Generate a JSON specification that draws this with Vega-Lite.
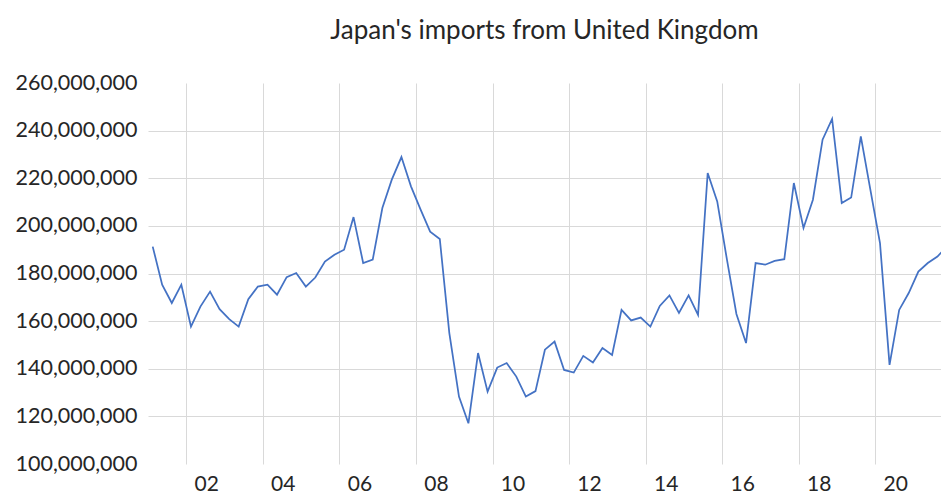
{
  "$schema": "https://vega.github.io/schema/vega-lite/v6.json",
  "autosize": {"type": "none"},
  "width": 793,
  "height": 381,
  "padding": {"left": 148, "top": 83, "right": 0, "bottom": 32},
  "background": "white",
  "title": {"text": "Japan's imports from United Kingdom", "font": "Lato", "fontSize": 26, "fontWeight": "normal", "color": "#262626", "anchor": "middle", "offset": 28},
  "config": {"view": {"stroke": null}},
  "data": {"values": [
    {"quarter": "2001-Q1", "date": "2001-02-15", "value": 191300000},
    {"quarter": "2001-Q2", "date": "2001-05-16", "value": 175300000},
    {"quarter": "2001-Q3", "date": "2001-08-16", "value": 167600000},
    {"quarter": "2001-Q4", "date": "2001-11-15", "value": 175300000},
    {"quarter": "2002-Q1", "date": "2002-02-15", "value": 157700000},
    {"quarter": "2002-Q2", "date": "2002-05-16", "value": 166100000},
    {"quarter": "2002-Q3", "date": "2002-08-16", "value": 172400000},
    {"quarter": "2002-Q4", "date": "2002-11-15", "value": 165000000},
    {"quarter": "2003-Q1", "date": "2003-02-15", "value": 160800000},
    {"quarter": "2003-Q2", "date": "2003-05-16", "value": 157700000},
    {"quarter": "2003-Q3", "date": "2003-08-16", "value": 169200000},
    {"quarter": "2003-Q4", "date": "2003-11-15", "value": 174500000},
    {"quarter": "2004-Q1", "date": "2004-02-15", "value": 175300000},
    {"quarter": "2004-Q2", "date": "2004-05-16", "value": 171100000},
    {"quarter": "2004-Q3", "date": "2004-08-16", "value": 178500000},
    {"quarter": "2004-Q4", "date": "2004-11-15", "value": 180200000},
    {"quarter": "2005-Q1", "date": "2005-02-15", "value": 174500000},
    {"quarter": "2005-Q2", "date": "2005-05-16", "value": 178300000},
    {"quarter": "2005-Q3", "date": "2005-08-16", "value": 185000000},
    {"quarter": "2005-Q4", "date": "2005-11-15", "value": 187900000},
    {"quarter": "2006-Q1", "date": "2006-02-15", "value": 190000000},
    {"quarter": "2006-Q2", "date": "2006-05-16", "value": 203700000},
    {"quarter": "2006-Q3", "date": "2006-08-16", "value": 184400000},
    {"quarter": "2006-Q4", "date": "2006-11-15", "value": 185800000},
    {"quarter": "2007-Q1", "date": "2007-02-15", "value": 207500000},
    {"quarter": "2007-Q2", "date": "2007-05-16", "value": 219400000},
    {"quarter": "2007-Q3", "date": "2007-08-16", "value": 228900000},
    {"quarter": "2007-Q4", "date": "2007-11-15", "value": 216600000},
    {"quarter": "2008-Q1", "date": "2008-02-15", "value": 206800000},
    {"quarter": "2008-Q2", "date": "2008-05-16", "value": 197600000},
    {"quarter": "2008-Q3", "date": "2008-08-16", "value": 194500000},
    {"quarter": "2008-Q4", "date": "2008-11-15", "value": 155000000},
    {"quarter": "2009-Q1", "date": "2009-02-15", "value": 128300000},
    {"quarter": "2009-Q2", "date": "2009-05-16", "value": 117100000},
    {"quarter": "2009-Q3", "date": "2009-08-16", "value": 146600000},
    {"quarter": "2009-Q4", "date": "2009-11-15", "value": 130400000},
    {"quarter": "2010-Q1", "date": "2010-02-15", "value": 140500000},
    {"quarter": "2010-Q2", "date": "2010-05-16", "value": 142400000},
    {"quarter": "2010-Q3", "date": "2010-08-16", "value": 136700000},
    {"quarter": "2010-Q4", "date": "2010-11-15", "value": 128300000},
    {"quarter": "2011-Q1", "date": "2011-02-15", "value": 130600000},
    {"quarter": "2011-Q2", "date": "2011-05-16", "value": 148000000},
    {"quarter": "2011-Q3", "date": "2011-08-16", "value": 151400000},
    {"quarter": "2011-Q4", "date": "2011-11-15", "value": 139500000},
    {"quarter": "2012-Q1", "date": "2012-02-15", "value": 138400000},
    {"quarter": "2012-Q2", "date": "2012-05-16", "value": 145400000},
    {"quarter": "2012-Q3", "date": "2012-08-16", "value": 142600000},
    {"quarter": "2012-Q4", "date": "2012-11-15", "value": 148700000},
    {"quarter": "2013-Q1", "date": "2013-02-15", "value": 145800000},
    {"quarter": "2013-Q2", "date": "2013-05-16", "value": 164700000},
    {"quarter": "2013-Q3", "date": "2013-08-16", "value": 160300000},
    {"quarter": "2013-Q4", "date": "2013-11-15", "value": 161500000},
    {"quarter": "2014-Q1", "date": "2014-02-15", "value": 157700000},
    {"quarter": "2014-Q2", "date": "2014-05-16", "value": 166400000},
    {"quarter": "2014-Q3", "date": "2014-08-16", "value": 170800000},
    {"quarter": "2014-Q4", "date": "2014-11-15", "value": 163400000},
    {"quarter": "2015-Q1", "date": "2015-02-15", "value": 170800000},
    {"quarter": "2015-Q2", "date": "2015-05-16", "value": 162600000},
    {"quarter": "2015-Q3", "date": "2015-08-16", "value": 222200000},
    {"quarter": "2015-Q4", "date": "2015-11-15", "value": 210300000},
    {"quarter": "2016-Q1", "date": "2016-02-15", "value": 186000000},
    {"quarter": "2016-Q2", "date": "2016-05-16", "value": 163000000},
    {"quarter": "2016-Q3", "date": "2016-08-16", "value": 150800000},
    {"quarter": "2016-Q4", "date": "2016-11-15", "value": 184400000},
    {"quarter": "2017-Q1", "date": "2017-02-15", "value": 183700000},
    {"quarter": "2017-Q2", "date": "2017-05-16", "value": 185300000},
    {"quarter": "2017-Q3", "date": "2017-08-16", "value": 186000000},
    {"quarter": "2017-Q4", "date": "2017-11-15", "value": 218000000},
    {"quarter": "2018-Q1", "date": "2018-02-15", "value": 199100000},
    {"quarter": "2018-Q2", "date": "2018-05-16", "value": 211000000},
    {"quarter": "2018-Q3", "date": "2018-08-16", "value": 236200000},
    {"quarter": "2018-Q4", "date": "2018-11-15", "value": 244900000},
    {"quarter": "2019-Q1", "date": "2019-02-15", "value": 209600000},
    {"quarter": "2019-Q2", "date": "2019-05-16", "value": 211900000},
    {"quarter": "2019-Q3", "date": "2019-08-16", "value": 237600000},
    {"quarter": "2019-Q4", "date": "2019-11-15", "value": 215200000},
    {"quarter": "2020-Q1", "date": "2020-02-15", "value": 192800000},
    {"quarter": "2020-Q2", "date": "2020-05-16", "value": 141600000},
    {"quarter": "2020-Q3", "date": "2020-08-16", "value": 164700000},
    {"quarter": "2020-Q4", "date": "2020-11-15", "value": 171800000},
    {"quarter": "2021-Q1", "date": "2021-02-15", "value": 180800000},
    {"quarter": "2021-Q2", "date": "2021-05-16", "value": 184400000},
    {"quarter": "2021-Q3", "date": "2021-08-16", "value": 187100000},
    {"quarter": "2021-Q4", "date": "2021-11-15", "value": 191500000}
  ]},
  "mark": {"type": "line", "color": "#4472C4", "strokeWidth": 1.75, "clip": true},
  "encoding": {
    "x": {
      "field": "date", "type": "temporal", "title": null,
      "scale": {"type": "utc", "domain": [{"year": 2001, "month": 1, "date": 1, "utc": true}, {"year": 2021, "month": 9, "date": 19, "utc": true}]},
      "axis": {
        "values": [
          {"year": 2002, "month": 1, "date": 1, "utc": true},
          {"year": 2004, "month": 1, "date": 1, "utc": true},
          {"year": 2006, "month": 1, "date": 1, "utc": true},
          {"year": 2008, "month": 1, "date": 1, "utc": true},
          {"year": 2010, "month": 1, "date": 1, "utc": true},
          {"year": 2012, "month": 1, "date": 1, "utc": true},
          {"year": 2014, "month": 1, "date": 1, "utc": true},
          {"year": 2016, "month": 1, "date": 1, "utc": true},
          {"year": 2018, "month": 1, "date": 1, "utc": true},
          {"year": 2020, "month": 1, "date": 1, "utc": true}
        ],
        "labelExpr": "utcFormat(datum.value, '%y')",
        "labelOffset": 20, "labelPadding": 9, "labelFont": "Lato", "labelFontSize": 21, "labelColor": "#262626",
        "labelBaseline": "top", "labelFlush": false, "labelOverlap": false,
        "ticks": false, "domain": false,
        "grid": true, "gridColor": "#d9d9d9", "gridWidth": 1
      }
    },
    "y": {
      "field": "value", "type": "quantitative", "title": null,
      "scale": {"domain": [100000000, 260000000], "nice": false, "zero": false},
      "axis": {
        "values": [100000000, 120000000, 140000000, 160000000, 180000000, 200000000, 220000000, 240000000, 260000000],
        "format": ",d", "labelFont": "Lato", "labelFontSize": 21.5, "labelColor": "#262626", "labelPadding": 11,
        "ticks": false, "domain": false, "labelFlush": false, "labelOverlap": false,
        "grid": true, "gridColor": "#d9d9d9", "gridWidth": 1,
        "gridOpacity": {"condition": {"test": "datum.value == 100000000 || datum.value == 260000000", "value": 0}, "value": 1}
      }
    }
  }
}
